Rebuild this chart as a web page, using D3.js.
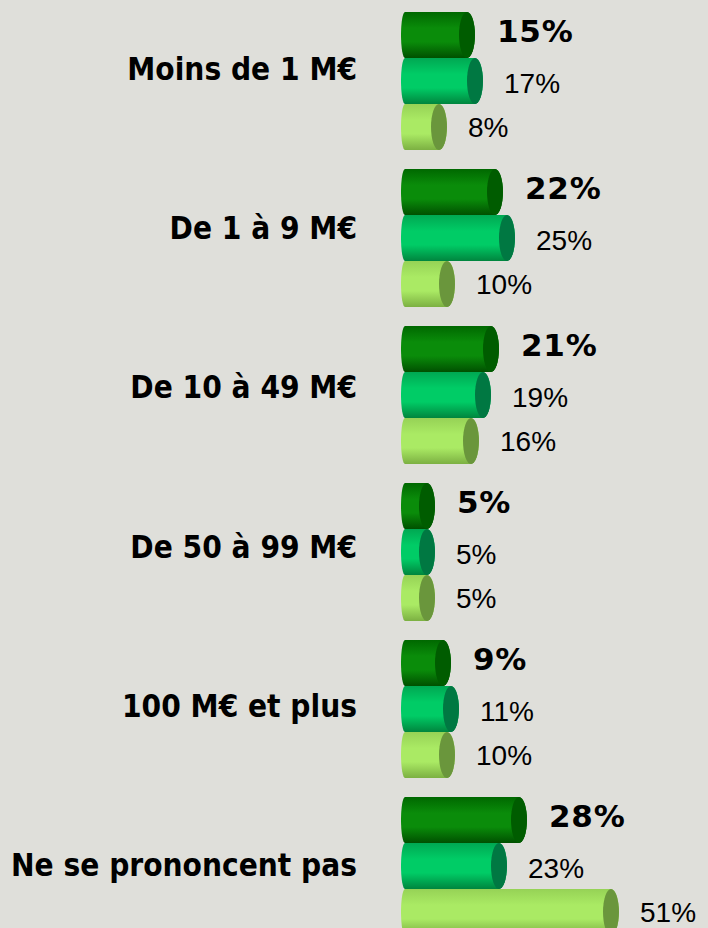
<!DOCTYPE html>
<html>
<head>
<meta charset="utf-8">
<script src="https://cdn.jsdelivr.net/npm/d3@7"></script>
<style>
  html, body { margin: 0; padding: 0; background: #dfdfda; }
  svg { display: block; }
</style>
</head>
<body>
<div id="chart"></div>
<script>
// categories and the three series (in %)
const categories = ["Moins de 1 M€", "De 1 à 9 M€", "De 10 à 49 M€", "De 50 à 99 M€", "100 M€ et plus", "Ne se prononcent pas"];
const seriesNames = ["s1", "s2", "s3"];
const series1 = [15, 22, 21, 5, 9, 28];
const series2 = [17, 25, 19, 5, 11, 23];
const series3 = [8, 10, 16, 5, 10, 51];

const width = 708, height = 928;

const svg = d3.select('#chart')
    .append('svg')
    .attr('width', width)
    .attr('height', height);

// colour sets per series: top edge, highlight, bottom edge, end cap
const palette = [
    { top: '#006800', mid: '#0a8c0a', bot: '#005000', cap: '#005c00' },
    { top: '#00a852', mid: '#00cc66', bot: '#00853e', cap: '#007842' },
    { top: '#96d256', mid: '#aaea64', bot: '#7cb042', cap: '#6a963c' }
];

const defs = svg.append('defs');
palette.forEach((c, i) => {
    const g = defs.append('linearGradient')
        .attr('id', 'grad' + i)
        .attr('x1', 0).attr('y1', 0).attr('x2', 0).attr('y2', 1);
    g.append('stop').attr('offset', '0%').attr('stop-color', c.top);
    g.append('stop').attr('offset', '35%').attr('stop-color', c.mid);
    g.append('stop').attr('offset', '65%').attr('stop-color', c.mid);
    g.append('stop').attr('offset', '100%').attr('stop-color', c.bot);
});

// scales
const yScale = d3.scaleBand()
    .domain(categories)
    .range([12, 935])
    .paddingInner(0.121)
    .paddingOuter(0);

const ySub = d3.scaleBand()
    .domain(seriesNames)
    .range([0, yScale.bandwidth()]);

// baselines of the category labels
const yLabel = d3.scalePoint()
    .domain(categories)
    .range([80, 876]);

// position of the end-cap centre for a value
const xScale = d3.scaleLinear()
    .domain([0, 51])
    .range([407, 611]);

const x0 = 401;      // left edge of every cylinder
const capRx = 8;     // horizontal radius of the end cap
const backRx = 4;    // visible curve of the hidden back end

const rows = [];
categories.forEach((cat, ci) => {
    [series1, series2, series3].forEach((s, si) => {
        rows.push({ cat: cat, si: si, key: seriesNames[si], value: s[ci] });
    });
});

const bars = svg.append('g').selectAll('g.bar')
    .data(rows)
    .enter()
    .append('g')
    .attr('class', 'bar')
    .attr('transform', d => `translate(0,${yScale(d.cat) + ySub(d.key)})`);

const h = ySub.bandwidth();

bars.append('path')
    .attr('d', d => {
        const x1 = xScale(d.value);
        const ry = h / 2;
        return `M${x0 + backRx},0 L${x1},0 A${capRx},${ry} 0 0 1 ${x1},${h}` +
               ` L${x0 + backRx},${h} A${backRx},${ry} 0 0 1 ${x0 + backRx},0 Z`;
    })
    .attr('fill', d => `url(#grad${d.si})`);

bars.append('ellipse')
    .attr('cx', d => xScale(d.value))
    .attr('cy', h / 2)
    .attr('rx', capRx)
    .attr('ry', h / 2)
    .attr('fill', d => palette[d.si].cap);

// value labels
const labelDy = [7, 12, 10];
bars.append('text')
    .attr('x', d => xScale(d.value) + (d.si === 0 ? 30 : 29))
    .attr('y', d => h / 2 + labelDy[d.si])
    .style('font-family', d => d.si === 0 ? '"DejaVu Sans", sans-serif' : '"Liberation Sans", Arial, sans-serif')
    .style('font-weight', d => d.si === 0 ? 'bold' : 'normal')
    .style('font-size', d => d.si === 0 ? '31px' : '28px')
    .style('letter-spacing', d => d.si === 0 ? '0.8px' : '0px')
    .style('fill', '#000')
    .text(d => d.value + '%');

// category labels
svg.append('g').selectAll('text')
    .data(categories)
    .enter()
    .append('text')
    .attr('x', 357)
    .attr('y', d => yLabel(d))
    .attr('text-anchor', 'end')
    .style('font-family', '"DejaVu Sans Condensed", "DejaVu Sans", sans-serif')
    .style('font-stretch', 'condensed')
    .style('font-weight', 'bold')
    .style('font-size', '31.3px')
    .style('fill', '#000')
    .text(d => d);
</script>
</body>
</html>
